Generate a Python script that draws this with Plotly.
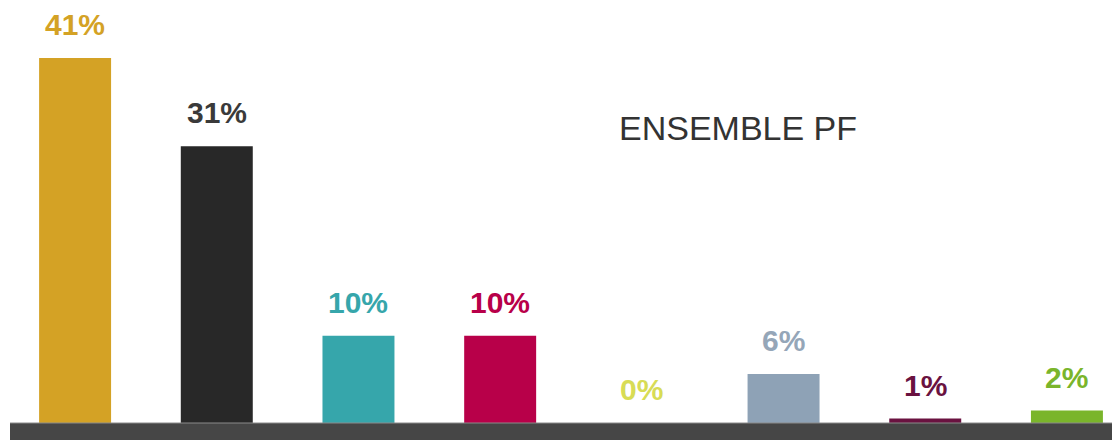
import plotly.graph_objects as go

categories = ["A", "B", "C", "D", "E", "F", "G", "H"]
values = [41, 31.1, 9.8, 9.8, 0, 5.5, 0.5, 1.4]
labels = ["41%", "31%", "10%", "10%", "0%", "6%", "1%", "2%"]
bar_colors = ["#D4A225", "#282828", "#36A6AB", "#B80049", "#D8DC55", "#8EA2B6", "#6A1240", "#7AB52B"]
label_colors = ["#D4A225", "#3A3A3A", "#36A6AB", "#B80049", "#D8DC55", "#95A6B8", "#6A1240", "#7AB52B"]
title_text = "ENSEMBLE PF"

PLOT_H = 415

fig = go.Figure()
fig.add_trace(go.Bar(
    x=categories, y=values,
    marker=dict(color=bar_colors, line=dict(width=0)),
    width=0.508,
    hoverinfo="skip",
))

for c, v, t, col in zip(categories, values, labels, label_colors):
    fig.add_annotation(
        x=c, y=v, text=t, showarrow=False, xref="x", yref="y",
        yanchor="bottom", yshift=15,
        font=dict(family="Liberation Sans, Arial, sans-serif", size=30, color=col, weight="bold"),
    )

fig.add_annotation(
    x=730 / 1120, y=1 - 120 / PLOT_H, xref="paper", yref="paper",
    text=title_text, showarrow=False, xanchor="center", yanchor="middle",
    font=dict(family="Liberation Sans, Arial, sans-serif", size=34, color="#333333"),
)

# dark baseline band
fig.add_shape(type="rect", xref="paper", yref="paper",
              x0=2 / 1120, x1=1.0, y0=-25 / PLOT_H, y1=0,
              fillcolor="#464646", line=dict(width=0), layer="above")
fig.add_shape(type="line", xref="paper", yref="paper",
              x0=2 / 1120, x1=1.0, y0=0, y1=0,
              line=dict(color="#8A8A8A", width=1), layer="above")

fig.update_layout(
    width=1120, height=440,
    margin=dict(l=0, r=0, t=0, b=440 - PLOT_H),
    paper_bgcolor="white", plot_bgcolor="white",
    showlegend=False,
    xaxis=dict(type="category", range=[-0.4735, 7.431], showticklabels=False,
               showgrid=False, zeroline=False, showline=False, ticks=""),
    yaxis=dict(range=[0, PLOT_H / 8.9], showticklabels=False, showgrid=False,
               zeroline=False, showline=False, ticks=""),
)

fig.write_html("out.html")
